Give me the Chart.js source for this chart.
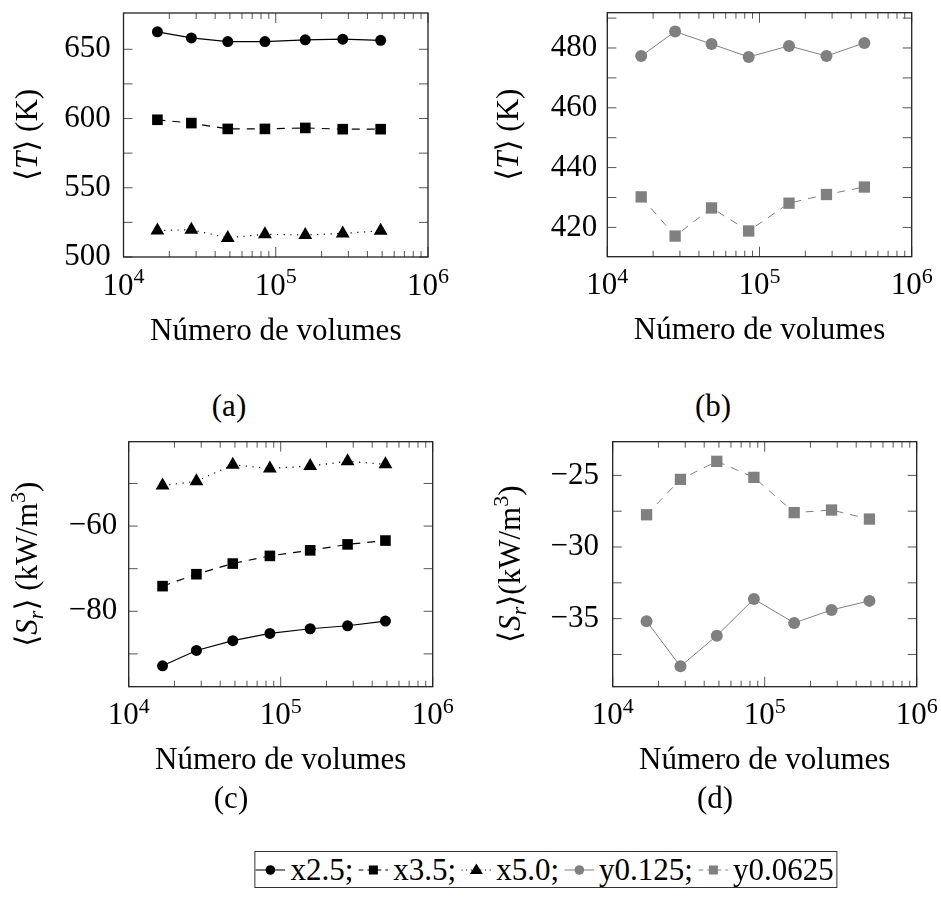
<!DOCTYPE html>
<html>
<head>
<meta charset="utf-8">
<title>Número de volumes</title>
<script src="https://cdn.jsdelivr.net/npm/chart.js@4.4.1/dist/chart.umd.min.js"></script>
<style>
  html, body { margin: 0; padding: 0; background: #fff; overflow: hidden; }
  #fig { position: relative; width: 941px; height: 916px; font-family: 'Liberation Serif', 'Times New Roman', serif; color: #000; }
  #fig canvas { position: absolute; }
  .cap { position: absolute; font-size: 31px; line-height: 1; transform: translate(-50%, -50%); white-space: nowrap; }
  #legend { position: absolute; left: 546px; top: 851px; height: 37px; transform: translateX(-50%);
            border: 1px solid #333; box-sizing: border-box; display: flex; align-items: center;
            padding: 0 3px 0 0; font-size: 31px; white-space: nowrap; }
  #legend .item { display: flex; align-items: center; margin-right: 5px; }
  #legend .item:last-child { margin-right: 0; }
  #legend svg { margin-right: 5px; }
</style>
</head>
<body>
<div id="fig">
  <canvas id="pa"></canvas>
  <canvas id="pb"></canvas>
  <canvas id="pc"></canvas>
  <canvas id="pd"></canvas>
  <div class="cap" style="left:229px; top:405px;">(a)</div>
  <div class="cap" style="left:713px; top:405px;">(b)</div>
  <div class="cap" style="left:231px; top:797px;">(c)</div>
  <div class="cap" style="left:715px; top:797px;">(d)</div>
  <div id="legend"></div>
</div>
<script>
// data
var volumes = [16700, 27900, 48400, 84900, 156300, 275400, 488700];

var xMajor = [1e4, 1e5, 1e6];
var xLabelBase = ['10', '10', '10'];
var xLabelExp = ['4', '5', '6'];
var xMinor = [2e4, 3e4, 4e4, 5e4, 6e4, 7e4, 8e4, 9e4, 2e5, 3e5, 4e5, 5e5, 6e5, 7e5, 8e5, 9e5];

// (a) mean temperature, x series
var tempX25 = [662.6, 658.2, 655.6, 655.6, 656.8, 657.3, 656.5];
var tempX35 = [599.1, 596.7, 592.5, 592.5, 593.2, 592.3, 592.3];
var tempX50 = [519.2, 519.7, 513.8, 516.4, 515.9, 517.0, 518.9];
// (b) mean temperature, y series
var tempY125 = [477.3, 485.5, 481.3, 477.0, 480.7, 477.3, 481.7];
var tempY0625 = [430.2, 417.1, 426.5, 418.8, 428.1, 431.0, 433.5];
// (c) mean source term, x series
var srcX25 = [-92.8, -89.2, -86.9, -85.2, -84.1, -83.4, -82.3];
var srcX35 = [-74.1, -71.3, -68.8, -67.0, -65.7, -64.3, -63.4];
var srcX50 = [-50.5, -49.5, -45.6, -46.5, -45.9, -44.8, -45.5];
// (d) mean source term, y series
var srcY125 = [-35.18, -38.33, -36.19, -33.63, -35.30, -34.39, -33.76];
var srcY0625 = [-27.75, -25.28, -24.02, -25.14, -27.60, -27.42, -28.05];

var yMajorA = [500, 550, 600, 650], yMinorA = [525, 575, 625];
var yMajorB = [420, 440, 460, 480], yMinorB = [430, 450, 470, 490];
var yMajorC = [-80, -60], yMinorC = [-90, -70, -50];
var yMajorD = [-35, -30, -25], yMinorD = [-37.5, -32.5, -27.5];

var legendNames = ['x2.5;', 'x3.5;', 'x5.0;', 'y0.125;', 'y0.0625'];

var SERIF = "'Liberation Serif', 'Times New Roman', 'DejaVu Serif', serif";
var GRAY = '#808080';

var styles = {
    x25:   { color: '#000', width: 1.2, dash: [],         point: 'circle',   r: 5.5 },
    x35:   { color: '#000', width: 1.2, dash: [8, 7],     point: 'rect',     r: 7.5 },
    x50:   { color: '#000', width: 1.2, dash: [1.2, 5.5], point: 'triangle', r: 8 },
    y125:  { color: GRAY,   width: 1.0, dash: [],         point: 'circle',   r: 6 },
    y0625: { color: GRAY,   width: 1.0, dash: [8, 7],     point: 'rect',     r: 8 }
};

// warm up the serif font before the charts measure their labels
(function () {
    var c = document.createElement('canvas').getContext('2d');
    ['31px ', 'italic 31px ', '22px ', 'italic 22px '].forEach(function (f) {
        c.font = f + SERIF;
        c.measureText('650 10 Número');
    });
})();

function fmtNum(v) {
    return v < 0 ? '\u2212' + Math.abs(v) : String(v);
}

// text with italic / sub / sup pieces, centred on (x, y) baseline
function drawRich(ctx, parts, x, y, rotate) {
    ctx.save();
    ctx.translate(x, y);
    if (rotate) ctx.rotate(-Math.PI / 2);
    ctx.textBaseline = 'alphabetic';
    ctx.textAlign = 'left';
    ctx.fillStyle = '#000';
    function font(p) {
        var small = p[1].indexOf('sub') >= 0 || p[1].indexOf('sup') >= 0;
        var it = p[1].charAt(0) === 'i';
        return (it ? 'italic ' : '') + (small ? 22 : 31) + 'px ' + SERIF;
    }
    var widths = parts.map(function (p) { ctx.font = font(p); return ctx.measureText(p[0]).width; });
    var total = widths.reduce(function (a, b) { return a + b; }, 0);
    var cx = -total / 2;
    parts.forEach(function (p, i) {
        var dy = p[1].indexOf('sub') >= 0 ? 6 : (p[1].indexOf('sup') >= 0 ? -12 : 0);
        ctx.font = font(p);
        ctx.fillText(p[0], cx, dy);
        cx += widths[i];
    });
    ctx.restore();
}

var frameTicks = {
    id: 'frameTicks',
    beforeDatasetsDraw: function (chart, args, opts) {
        var ctx = chart.ctx, a = chart.chartArea, xs = chart.scales.x, ys = chart.scales.y;
        ctx.save();
        ctx.strokeStyle = '#555';
        ctx.lineWidth = 1;
        ctx.beginPath();
        function xt(v, len) {
            var px = xs.getPixelForValue(v);
            ctx.moveTo(px, a.bottom); ctx.lineTo(px, a.bottom - len);
            ctx.moveTo(px, a.top); ctx.lineTo(px, a.top + len);
        }
        function yt(v, len) {
            var py = ys.getPixelForValue(v);
            ctx.moveTo(a.left, py); ctx.lineTo(a.left + len, py);
            ctx.moveTo(a.right, py); ctx.lineTo(a.right - len, py);
        }
        xMajor.forEach(function (v) { xt(v, 10); });
        xMinor.forEach(function (v) { xt(v, 6); });
        opts.yMajor.forEach(function (v) { yt(v, 9); });
        opts.yMinor.forEach(function (v) { yt(v, 9); });
        ctx.stroke();
        ctx.strokeStyle = '#222';
        ctx.lineWidth = 1.3;
        ctx.strokeRect(a.left, a.top, a.right - a.left, a.bottom - a.top);
        ctx.restore();
    },
    afterDraw: function (chart, args, opts) {
        var ctx = chart.ctx, a = chart.chartArea, xs = chart.scales.x;
        // exponents of the 10^n tick labels
        ctx.save();
        ctx.font = '22px ' + SERIF;
        ctx.fillStyle = '#000';
        ctx.textBaseline = 'alphabetic';
        ctx.textAlign = 'left';
        xMajor.forEach(function (v, i) {
            ctx.fillText(xLabelExp[i], xs.getPixelForValue(v) + 10, a.bottom + 26);
        });
        ctx.restore();
        drawRich(ctx, [['Número de volumes', 'n']], (a.left + a.right) / 2, a.bottom + 82.5, false);
        drawRich(ctx, opts.yTitle, opts.yTitleX, (a.top + a.bottom) / 2, true);
    }
};

var charts = [];
function makePanel(id, p) {
    var canvas = document.getElementById(id);
    canvas.width = p.cw;
    canvas.height = p.ch;
    canvas.style.left = p.cx + 'px';
    canvas.style.top = p.cy + 'px';
    var L = p.area[0] - p.cx, T = p.area[1] - p.cy, R = p.area[2] - p.cx, B = p.area[3] - p.cy;

    charts.push(new Chart(canvas, {
        type: 'line',
        data: {
            datasets: p.series.map(function (s) {
                var st = styles[s.style];
                return {
                    label: s.name,
                    data: volumes.map(function (v, i) { return { x: v, y: s.values[i] }; }),
                    borderColor: st.color,
                    backgroundColor: st.color,
                    borderWidth: st.width,
                    borderDash: st.dash,
                    pointStyle: st.point,
                    pointRadius: st.r,
                    pointBorderWidth: 0,
                    pointBackgroundColor: st.color,
                    tension: 0,
                    fill: false,
                    clip: false
                };
            })
        },
        options: {
            responsive: false,
            animation: false,
            events: [],
            layout: { padding: { left: 0, top: T, right: p.cw - R, bottom: 0 } },
            plugins: {
                legend: { display: false },
                tooltip: { enabled: false },
                frameTicks: { yMajor: p.yMajor, yMinor: p.yMinor, yTitle: p.yTitle, yTitleX: p.yTitleX - p.cx }
            },
            scales: {
                x: {
                    type: 'logarithmic',
                    position: 'bottom',
                    min: 1e4,
                    max: 1e6,
                    grid: { display: false, drawTicks: false },
                    border: { display: false },
                    ticks: {
                        font: { family: SERIF, size: 31, lineHeight: 1.2 },
                        color: '#000', padding: 11, labelOffset: -5.5,
                        maxRotation: 0, autoSkip: false,
                        callback: function (v, i) { return xLabelBase[i]; }
                    },
                    afterBuildTicks: function (s) { s.ticks = xMajor.map(function (v) { return { value: v }; }); },
                    afterFit: function (s) { s.height = p.ch - B; s.paddingLeft = 0; s.paddingRight = 0; }
                },
                y: {
                    type: 'linear',
                    min: p.yMin,
                    max: p.yMax,
                    grid: { display: false, drawTicks: false },
                    border: { display: false },
                    ticks: {
                        font: { family: SERIF, size: 31, lineHeight: 1.2 },
                        color: '#000', padding: p.yPad,
                        callback: function (v) { return fmtNum(v); }
                    },
                    afterBuildTicks: function (s) { s.ticks = p.yMajor.map(function (v) { return { value: v }; }); },
                    afterFit: function (s) { s.width = L; s.paddingTop = 0; s.paddingBottom = 0; }
                }
            }
        },
        plugins: [frameTicks]
    }));
}

var titleT = [['⟨', 'n'], ['T', 'i'], ['⟩ (K)', 'n']];
var titleS = [['⟨', 'n'], ['S', 'i'], ['r', 'isub'], ['⟩ (kW/m', 'n'], ['3', 'sup'], [')', 'n']];
var titleS2 = [['⟨', 'n'], ['S', 'i'], ['r', 'isub'], ['⟩(kW/m', 'n'], ['3', 'sup'], [')', 'n']];

makePanel('pa', {
    cx: 0, cy: 0, cw: 470, ch: 370, area: [123.5, 13, 428, 257],
    yMin: 500, yMax: 676.2, yMajor: yMajorA, yMinor: yMinorA, yPad: 12.8,
    yTitle: titleT, yTitleX: 37,
    series: [
        { name: 'x2.5', values: tempX25, style: 'x25' },
        { name: 'x3.5', values: tempX35, style: 'x35' },
        { name: 'x5.0', values: tempX50, style: 'x50' }
    ]
});
makePanel('pb', {
    cx: 470, cy: 0, cw: 471, ch: 370, area: [607.3, 12.7, 911.7, 256.7],
    yMin: 410.2, yMax: 491.8, yMajor: yMajorB, yMinor: yMinorB, yPad: 10,
    yTitle: titleT, yTitleX: 517.8,
    series: [
        { name: 'y0.125', values: tempY125, style: 'y125' },
        { name: 'y0.0625', values: tempY0625, style: 'y0625' }
    ]
});
makePanel('pc', {
    cx: 0, cy: 428, cw: 470, ch: 370, area: [128.7, 441.7, 432.7, 686.7],
    yMin: -97.7, yMax: -40.2, yMajor: yMajorC, yMinor: yMinorC, yPad: 11.4,
    yTitle: titleS, yTitleX: 37.2,
    series: [
        { name: 'x2.5', values: srcX25, style: 'x25' },
        { name: 'x3.5', values: srcX35, style: 'x35' },
        { name: 'x5.0', values: srcX50, style: 'x50' }
    ]
});
makePanel('pd', {
    cx: 470, cy: 428, cw: 471, ch: 370, area: [612.7, 441.7, 916.7, 686.7],
    yMin: -39.75, yMax: -22.65, yMajor: yMajorD, yMinor: yMinorD, yPad: 13.7,
    yTitle: titleS2, yTitleX: 519.5,
    series: [
        { name: 'y0.125', values: srcY125, style: 'y125' },
        { name: 'y0.0625', values: srcY0625, style: 'y0625' }
    ]
});

// redraw once the fonts are surely ready
if (document.fonts && document.fonts.ready) {
    document.fonts.ready.then(function () {
        charts.forEach(function (c) { c.update('none'); });
    });
}

// shared legend
function legendIcon(st) {
    var mark;
    if (st.point === 'circle') mark = '<circle cx="15" cy="10" r="4.8" fill="' + st.color + '"/>';
    else if (st.point === 'rect') mark = '<rect x="10.5" y="5.5" width="9" height="9" fill="' + st.color + '"/>';
    else mark = '<polygon points="15,3.5 21.5,14 8.5,14" fill="' + st.color + '"/>';
    return '<svg width="30" height="20" viewBox="0 0 30 20">' +
        '<line x1="0" y1="10" x2="30" y2="10" stroke="' + st.color + '" stroke-width="1.2"' +
        (st.dash.length ? ' stroke-dasharray="' + (st.dash[0] > 2 ? '5 4' : '1.2 3.5') + '"' : '') + '/>' + mark + '</svg>';
}
var legendKeys = ['x25', 'x35', 'x50', 'y125', 'y0625'];
document.getElementById('legend').innerHTML = legendKeys.map(function (k, i) {
    return '<span class="item">' + legendIcon(styles[k]) + '<span>' + legendNames[i] + '</span></span>';
}).join('');
</script>
</body>
</html>
